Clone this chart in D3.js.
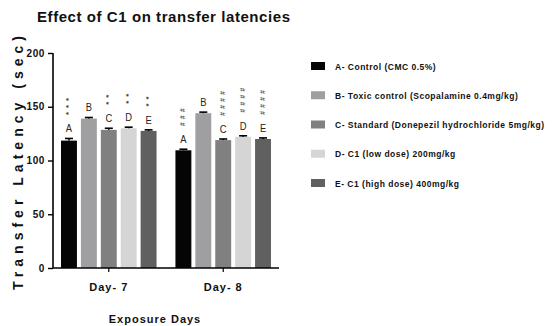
<!DOCTYPE html>
<html>
<head>
<meta charset="utf-8">
<script src="https://cdn.jsdelivr.net/npm/d3@7"></script>
<style>
  html, body { margin: 0; padding: 0; background: #fff; }
  text { font-family: "Liberation Sans", Arial, sans-serif; }
</style>
</head>
<body>
<svg id="chart" width="557" height="326"></svg>
<script>
// Transfer latency (sec) per treatment group, for each exposure day
const days = ["Day- 7", "Day- 8"];
const groups = ["A", "B", "C", "D", "E"];
const groupLabels = [
  "A- Control (CMC 0.5%)",
  "B- Toxic control (Scopalamine 0.4mg/kg)",
  "C- Standard (Donepezil hydrochloride 5mg/kg)",
  "D- C1 (low dose) 200mg/kg",
  "E- C1 (high dose) 400mg/kg"
];
const groupColors = ["#050505", "#9f9fa1", "#808080", "#d5d5d5", "#606060"];
const day7Values = [118.5, 139, 128.5, 130, 127.5];
const day8Values = [109.5, 144, 119, 122, 120];
const day7Errors = [2, 1, 1.5, 1, 1];
const day8Errors = [1, 1, 1, 1, 1];
const day7Marks = ["***", "", "**", "**", "**"];
const day8Marks = ["###", "", "####", "####", "####"];
const yTicks = [0, 50, 100, 150, 200];

const valuesByDay = [day7Values, day8Values];
const errorsByDay = [day7Errors, day8Errors];
const marksByDay = [day7Marks, day8Marks];

const svg = d3.select("#chart");

const y = d3.scaleLinear().domain([0, 200]).range([268, 53]);
const x0 = d3.scaleBand().domain(days).range([53, 279]).paddingInner(0.165).paddingOuter(0.07);
const x1 = d3.scaleBand().domain(groups).range([0, x0.bandwidth()]).paddingInner(0.2).paddingOuter(0);
const color = d3.scaleOrdinal().domain(groups).range(groupColors);

// Title
svg.append("text")
  .attr("x", 37).attr("y", 22)
  .attr("font-size", 15).attr("font-weight", "bold")
  .attr("textLength", 253).attr("lengthAdjust", "spacing")
  .attr("fill", "#111")
  .text("Effect of C1 on transfer latencies");

// Y axis title
svg.append("text")
  .attr("transform", "translate(23,163) rotate(-90)")
  .attr("text-anchor", "middle")
  .attr("font-size", 14).attr("font-weight", "bold")
  .attr("textLength", 254).attr("lengthAdjust", "spacing")
  .attr("fill", "#111")
  .text("Transfer Latency (sec)");

// Bars
const rows = [];
days.forEach((d, di) => groups.forEach((g, gi) => rows.push({
  day: d, group: g, value: valuesByDay[di][gi], err: errorsByDay[di][gi], mark: marksByDay[di][gi]
})));

const barG = svg.append("g");
barG.selectAll("rect").data(rows).join("rect")
  .attr("x", r => x0(r.day) + x1(r.group))
  .attr("y", r => y(r.value))
  .attr("width", x1.bandwidth())
  .attr("height", r => y(0) - y(r.value))
  .attr("fill", r => color(r.group));

// Error bars (upper whisker with cap)
const errG = svg.append("g").attr("stroke", "#000").attr("stroke-width", 1.6);
rows.forEach(r => {
  const cx = x0(r.day) + x1(r.group) + x1.bandwidth() / 2;
  errG.append("line").attr("x1", cx).attr("x2", cx).attr("y1", y(r.value)).attr("y2", y(r.value + r.err));
  errG.append("line").attr("x1", cx - 4).attr("x2", cx + 4).attr("y1", y(r.value + r.err)).attr("y2", y(r.value + r.err));
});

// Group letters and significance marks above each bar
const annG = svg.append("g").attr("fill", "#222");
rows.forEach(r => {
  const cx = x0(r.day) + x1(r.group) + x1.bandwidth() / 2;
  const letterBase = y(r.value + r.err) - 6;
  annG.append("text")
    .attr("x", cx).attr("y", letterBase)
    .attr("text-anchor", "middle").attr("font-size", 11)
    .attr("transform", `translate(${cx},${letterBase}) scale(0.85,1) translate(${-cx},${-letterBase})`)
    .text(r.group);
  const syms = r.mark.split("");
  syms.forEach((s, i) => {
    const yy = letterBase - 19 - i * 7;
    annG.append("text")
      .attr("transform", `translate(${cx + 2},${yy}) rotate(-90)`)
      .attr("text-anchor", "middle")
      .attr("font-size", s === "*" ? 8 : 6.5)
      .attr("font-weight", "bold")
      .attr("fill", s === "*" ? "#333" : "#555")
      .text(s);
  });
});

// Y axis
const yAxis = svg.append("g")
  .attr("transform", "translate(53,0)")
  .call(d3.axisLeft(y).tickValues(yTicks).tickSize(5).tickPadding(3));
yAxis.select(".domain").attr("stroke-width", 1.6).attr("d", "M0,268V53");
yAxis.selectAll(".tick line").attr("stroke-width", 1.4);
yAxis.selectAll(".tick text")
  .attr("font-size", 10).attr("font-weight", "bold")
  .attr("letter-spacing", 0.6).attr("fill", "#111")
  .attr("font-family", "Liberation Sans, Arial, sans-serif");

// X axis
const xAxis = svg.append("g")
  .attr("transform", "translate(0,268)")
  .call(d3.axisBottom(x0).tickSize(4).tickPadding(11));
xAxis.select(".domain").attr("stroke-width", 1.6).attr("d", "M53,0H279");
xAxis.selectAll(".tick line").attr("stroke-width", 1.2);
xAxis.selectAll(".tick text")
  .attr("font-size", 11).attr("font-weight", "bold")
  .attr("letter-spacing", 1).attr("fill", "#111")
  .attr("font-family", "Liberation Sans, Arial, sans-serif");

// X axis title
svg.append("text")
  .attr("x", 155).attr("y", 323)
  .attr("text-anchor", "middle")
  .attr("font-size", 11).attr("font-weight", "bold")
  .attr("letter-spacing", 1).attr("fill", "#111")
  .text("Exposure Days");

// Legend
const legend = svg.append("g").attr("transform", "translate(311,0)");
const legendY = d3.scalePoint().domain(groups).range([66, 183]);
groups.forEach((g, i) => {
  legend.append("rect")
    .attr("x", 0).attr("y", legendY(g) - 4)
    .attr("width", 14).attr("height", 8)
    .attr("fill", color(g));
  legend.append("text")
    .attr("x", 24).attr("y", legendY(g) + 3.5)
    .attr("font-size", 8.5).attr("font-weight", "bold")
    .attr("letter-spacing", 0.5).attr("fill", "#111")
    .text(groupLabels[i]);
});
</script>
</body>
</html>
